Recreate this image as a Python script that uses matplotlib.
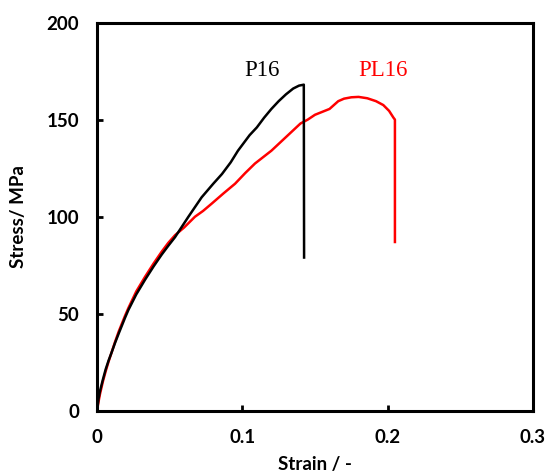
import matplotlib.pyplot as plt

# P16 (black) stress-strain curve
p16_strain = [0, 0.001, 0.002, 0.004, 0.006, 0.008, 0.01, 0.0124, 0.015, 0.0193, 0.0216,
              0.027, 0.033, 0.039, 0.0445, 0.049, 0.0537, 0.0629, 0.072, 0.08, 0.086,
              0.092, 0.097, 0.105, 0.11, 0.115, 0.12, 0.125, 0.13, 0.135, 0.139,
              0.1423, 0.1425]
p16_stress = [0, 6, 10, 16, 21.5, 26, 30, 35, 40, 48, 52,
              60, 67.5, 74.5, 80.5, 85, 89.5, 100, 110, 117, 122,
              128, 134, 142, 146, 151, 155.5, 159.5, 163, 166, 167.5,
              168, 79]

# PL16 (red) stress-strain curve
pl16_strain = [0, 0.001, 0.002, 0.004, 0.006, 0.008, 0.01, 0.0124, 0.015, 0.0193, 0.0216,
               0.027, 0.033, 0.039, 0.0445, 0.049, 0.0537, 0.06, 0.0674, 0.073, 0.079,
               0.087, 0.095, 0.102, 0.1087, 0.12, 0.13, 0.14, 0.145, 0.15, 0.155,
               0.16, 0.163, 0.166, 0.17, 0.175, 0.18, 0.186, 0.192, 0.197, 0.201,
               0.204, 0.205, 0.205]
pl16_stress = [0, 4.5, 8.5, 15, 20.5, 25.5, 30, 35.5, 41, 49, 53,
               61.5, 69, 76, 82, 86.5, 90.5, 94.5, 100, 103, 106.8,
               112, 117, 122.5, 127.4, 134, 141, 148, 150, 152.5, 154,
               155.5, 157.5, 159.5, 160.8, 161.5, 161.7, 161, 159.5, 157.5, 154.5,
               151, 150, 87]

plt.rcParams['font.family'] = ['Lato', 'DejaVu Sans']

fig = plt.figure(figsize=(5.47, 4.76), dpi=100)
ax = fig.add_axes([0.1773, 0.1366, 0.7971, 0.8161])

ax.plot(pl16_strain, pl16_stress, color='red', lw=1.8)
ax.plot(p16_strain, p16_stress, color='black', lw=1.8)

ax.text(0.1135, 175.5, 'P16', family='Liberation Serif', fontsize=16.5, ha='center', va='center')
ax.text(0.197, 175.5, 'PL16', family='Liberation Serif', fontsize=16.5, ha='center', va='center', color='red')

ax.set_xlim(0, 0.3)
ax.set_ylim(0, 200)
ax.set_xticks([0, 0.1, 0.2, 0.3])
ax.set_xticklabels(['0', '0.1', '0.2', '0.3'])
ax.set_yticks([0, 50, 100, 150, 200])

for s in ax.spines.values():
    s.set_linewidth(2.2)
ax.tick_params(direction='in', length=4, width=2, labelsize=13.5, pad=13)
for lab in ax.get_xticklabels() + ax.get_yticklabels():
    lab.set_fontweight('bold')

ax.set_xlabel('Strain / -', fontsize=13.5, fontweight='bold', labelpad=7)
ax.set_ylabel('Stress/ MPa', fontsize=13.5, fontweight='bold', labelpad=14)

fig.savefig('out.png', dpi=100)
